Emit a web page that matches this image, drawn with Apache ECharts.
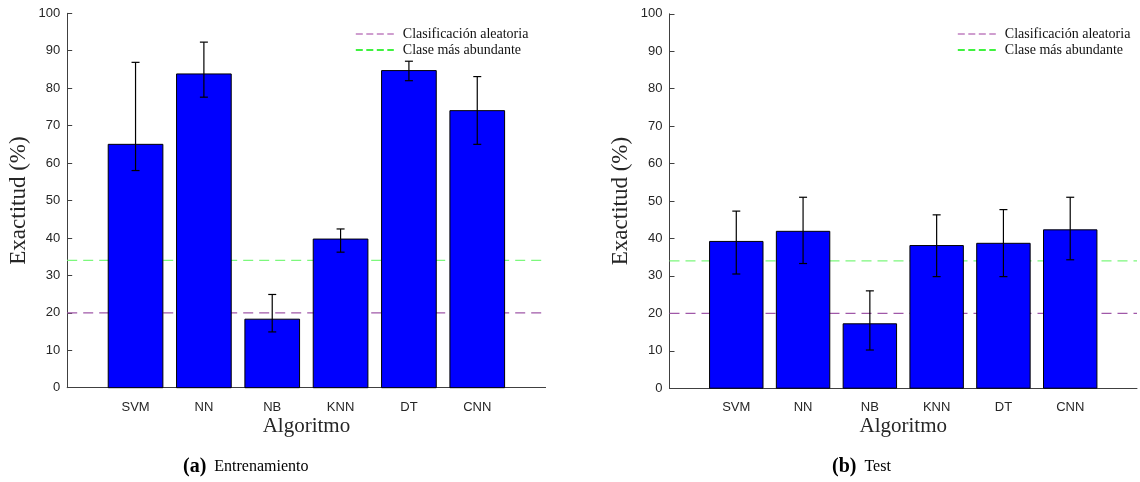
<!DOCTYPE html>
<html>
<head>
<meta charset="utf-8">
<script src="https://cdn.jsdelivr.net/npm/echarts@6/dist/echarts.min.js"></script>
<style>
  html, body { margin: 0; padding: 0; background: #fff; }
  #chart { width: 1140px; height: 482px; }
</style>
</head>
<body>
<div id="chart"></div>
<script>
// Algorithms on the horizontal axis (placed at x = 1..6, axis spans 0..7)
const categories = ['SVM', 'NN', 'NB', 'KNN', 'DT', 'CNN'];

// Training accuracy (%) with lower / upper error limits
const trainAcc  = [65.0, 83.8, 18.3, 39.7, 84.7, 74.0];
const trainLow  = [58.0, 77.6, 14.9, 36.2, 82.0, 65.0];
const trainHigh = [86.9, 92.3, 24.9, 42.4, 87.2, 83.1];

// Test accuracy (%) with lower / upper error limits
const testAcc  = [39.2, 41.9, 17.2, 38.1, 38.7, 42.3];
const testLow  = [30.5, 33.3, 10.2, 29.8, 29.8, 34.3];
const testHigh = [47.3, 51.0, 26.0, 46.3, 47.7, 51.0];

// Reference levels
const randomLevel = 20;
const majorityLevel = 34;

// Y tick labels
const yTicks = [0, 10, 20, 30, 40, 50, 60, 70, 80, 90, 100];

const RANDOM_NAME = 'Clasificación aleatoria';
const MAJOR_NAME = 'Clase más abundante';

const SANS = 'Liberation Sans, Arial, sans-serif';
const SERIF = 'Liberation Serif, Times New Roman, serif';
const AXIS_COLOR = '#262626';

const chart = echarts.init(document.getElementById('chart'), null, { renderer: 'canvas' });

function barItem(params, api) {
  const x = api.value(0), y = api.value(1);
  const p0 = api.coord([x - 0.4, y]);
  const p1 = api.coord([x + 0.4, 0]);
  return {
    type: 'rect',
    shape: { x: p0[0], y: p0[1], width: p1[0] - p0[0], height: p1[1] - p0[1] },
    style: { fill: '#0000ff', stroke: '#000', lineWidth: 1 }
  };
}

function errItem(params, api) {
  const x = api.value(0);
  const lo = api.coord([x, api.value(1)]);
  const hi = api.coord([x, api.value(2)]);
  const cap = 4;
  const st = { stroke: '#000', lineWidth: 1.2 };
  return {
    type: 'group',
    children: [
      { type: 'line', shape: { x1: lo[0], y1: lo[1], x2: hi[0], y2: hi[1] }, style: st },
      { type: 'line', shape: { x1: lo[0] - cap, y1: lo[1], x2: lo[0] + cap, y2: lo[1] }, style: st },
      { type: 'line', shape: { x1: hi[0] - cap, y1: hi[1], x2: hi[0] + cap, y2: hi[1] }, style: st }
    ]
  };
}

function xAxisFor(gridIndex) {
  return {
    gridIndex, type: 'value', min: 0, max: 7, interval: 1,
    name: 'Algoritmo', nameLocation: 'middle', nameGap: 28, nameMoveOverlap: false,
    nameTextStyle: { fontFamily: SERIF, fontSize: 21, color: AXIS_COLOR },
    axisLine: { show: true, onZero: false, lineStyle: { color: '#404040', width: 1 } },
    axisTick: { show: false },
    splitLine: { show: false },
    axisLabel: {
      margin: 13, fontFamily: SANS, fontSize: 13, color: AXIS_COLOR,
      formatter: v => categories[v - 1] || ''
    }
  };
}

function yAxisFor(gridIndex) {
  return {
    gridIndex, type: 'value', min: yTicks[0], max: yTicks[yTicks.length - 1], interval: 10,
    name: 'Exactitud (%)', nameLocation: 'middle', nameGap: 37,
    nameTextStyle: { fontFamily: SERIF, fontSize: 23, color: AXIS_COLOR },
    axisLine: { show: true, lineStyle: { color: '#404040', width: 1 } },
    axisTick: { show: true, inside: true, length: 5, lineStyle: { color: '#404040' } },
    splitLine: { show: false },
    axisLabel: { margin: 7, fontFamily: SANS, fontSize: 13, color: AXIS_COLOR }
  };
}

function panelSeries(idx, acc, low, high) {
  return [
    {
      name: RANDOM_NAME, type: 'line', xAxisIndex: idx, yAxisIndex: idx,
      data: [[0, randomLevel], [7, randomLevel]], symbol: 'none', z: 1,
      lineStyle: { color: '#a058a8', width: 1.2, type: [10, 6] }, itemStyle: { color: '#a058a8' }
    },
    {
      name: MAJOR_NAME, type: 'line', xAxisIndex: idx, yAxisIndex: idx,
      data: [[0, majorityLevel], [7, majorityLevel]], symbol: 'none', z: 1,
      lineStyle: { color: '#7cf87c', width: 1.2, type: [10, 6] }, itemStyle: { color: '#7cf87c' }
    },
    {
      type: 'custom', xAxisIndex: idx, yAxisIndex: idx, z: 3,
      data: categories.map((c, i) => [i + 1, acc[i]]),
      encode: { x: 0, y: 1 }, renderItem: barItem
    },
    {
      type: 'custom', xAxisIndex: idx, yAxisIndex: idx, z: 4,
      data: categories.map((c, i) => [i + 1, low[i], high[i]]),
      encode: { x: 0, y: [1, 2] }, renderItem: errItem
    }
  ];
}

function legendFor(left) {
  const hidden = { color: 'rgba(0,0,0,0)', borderWidth: 0, opacity: 0 };
  return {
    left, top: 27, padding: 0, orient: 'vertical', itemWidth: 38, itemHeight: 14, itemGap: 2,
    selectedMode: false,
    textStyle: { fontFamily: SERIF, fontSize: 14, color: '#111', padding: [0, 0, 0, 4] },
    data: [
      { name: RANDOM_NAME, itemStyle: hidden, lineStyle: { color: '#c07fc0', width: 1.6, type: [7, 3.5] } },
      { name: MAJOR_NAME, itemStyle: hidden, lineStyle: { color: '#00ee00', width: 1.6, type: [7, 3.5] } }
    ]
  };
}

function caption(left, tag, text) {
  return {
    left, top: 457, padding: 0,
    text: '{b|' + tag + '}{n|' + text + '}',
    textStyle: {
      fontWeight: 'normal',
      rich: {
        b: { fontFamily: SERIF, fontSize: 20, fontWeight: 'bold', color: '#000', padding: [0, 8, 0, 0] },
        n: { fontFamily: SERIF, fontSize: 16, fontWeight: 'normal', color: '#000' }
      }
    }
  };
}

chart.setOption({
  animation: false,
  backgroundColor: '#fff',
  grid: [
    { left: 67.2, top: 13.3, width: 478.4, height: 374.4 },
    { left: 669.5, top: 13.8, width: 478.4, height: 374.4 }
  ],
  xAxis: [xAxisFor(0), xAxisFor(1)],
  yAxis: [yAxisFor(0), yAxisFor(1)],
  legend: [legendFor(355), legendFor(957)],
  title: [caption(183, '(a)', 'Entrenamiento'), caption(832, '(b)', 'Test')],
  series: [
    ...panelSeries(0, trainAcc, trainLow, trainHigh),
    ...panelSeries(1, testAcc, testLow, testHigh)
  ]
});
</script>
</body>
</html>
